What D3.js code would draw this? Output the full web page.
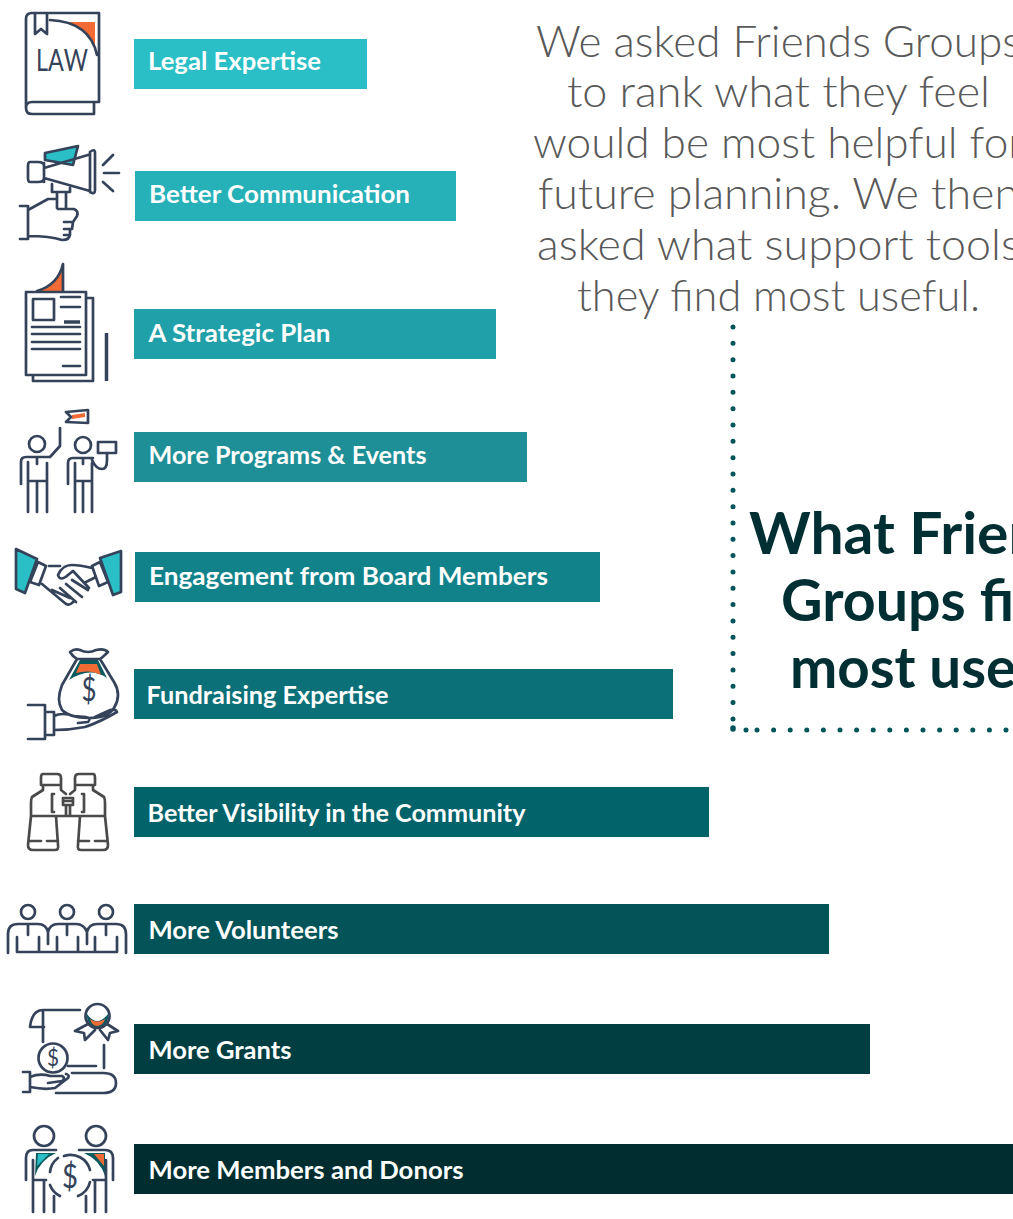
<!DOCTYPE html>
<html>
<head>
<meta charset="utf-8">
<script src="https://cdn.jsdelivr.net/npm/d3@7"></script>
<style>
  html, body { margin: 0; padding: 0; background: #fff; overflow: hidden; }
  svg { display: block; }
  text { font-family: "Lato", "Open Sans", sans-serif; }
</style>
</head>
<body>
<div id="chart"></div>
<script>
// what friends groups find most useful, longest bar runs off the page
const categories = ["Legal Expertise", "Better Communication", "A Strategic Plan", "More Programs & Events",
    "Engagement from Board Members", "Fundraising Expertise", "Better Visibility in the Community",
    "More Volunteers", "More Grants", "More Members and Donors"]
const values = [233, 322, 362, 393, 466, 539, 575, 695, 736, 900]
const barColors = ["#2abfc6", "#26b0b8", "#20a0a8", "#1e8f96", "#12828a", "#0b7077", "#02636a", "#025458", "#003e42", "#002e30"]

const introLines = ["We asked Friends Groups", "to rank what they feel", "would be most helpful for",
    "future planning. We then", "asked what support tools", "they find most useful."]
const titleLines = ["What Friends", "Groups find", "most useful"]

// layout
const rowTops = [39, 171, 309, 432, 552, 669, 787, 904, 1024, 1144]
const rowNudge = [0, 1, 0, 0, 1, 0, 0, 0, 0, 0]
const labelStarts = [148, 149, 148.5, 148.5, 149, 146.5, 147.5, 148.5, 148.5, 148.5]
const labelWidths = [173, 261, 182, 278, 399, 242, 378, 190, 143, 315]
const labelDrops = [31, 32, 33, 32, 33, 35, 35, 35, 35, 35]
const introWidths = [485, 423, 491, 481, 483, 403]
const titleStarts = [749, 781, 790]
const titleWidths = [352, 298, 292]

const width = 1013, height = 1219, barHeight = 50
const ink = "#35435a", orange = "#f26b35", teal = "#2abfc6", deep = "#0b5a5f"

const svg = d3.select("#chart").append("svg")
    .attr("width", width)
    .attr("height", height)

const x = d3.scaleLinear().domain([0, 1000]).range([0, 1000])
const y = d3.scaleOrdinal().domain(categories).range(rowTops)

const rows = svg.selectAll("g.row")
    .data(categories)
    .join("g")
    .attr("class", "row")

rows.append("rect")
    .attr("x", (d, i) => 134 + rowNudge[i])
    .attr("y", d => y(d))
    .attr("width", (d, i) => x(values[i]) - rowNudge[i])
    .attr("height", barHeight)
    .attr("fill", (d, i) => barColors[i])

rows.append("text")
    .attr("x", (d, i) => labelStarts[i])
    .attr("y", (d, i) => y(d) + labelDrops[i])
    .attr("textLength", (d, i) => labelWidths[i])
    .attr("lengthAdjust", "spacingAndGlyphs")
    .attr("font-size", 25)
    .attr("font-weight", 700)
    .attr("fill", "#fff")
    .text(d => d)

// intro paragraph
svg.selectAll("text.intro")
    .data(introLines)
    .join("text")
    .attr("class", "intro")
    .attr("x", 778.5)
    .attr("y", (d, i) => 56.5 + i * 50.8)
    .attr("text-anchor", "middle")
    .attr("textLength", (d, i) => introWidths[i])
    .attr("lengthAdjust", "spacingAndGlyphs")
    .attr("font-size", 43)
    .attr("font-weight", 300)
    .attr("fill", "#595959")
    .text(d => d)

// bold heading, clipped by the right edge
svg.selectAll("text.title")
    .data(titleLines)
    .join("text")
    .attr("class", "title")
    .attr("x", (d, i) => titleStarts[i])
    .attr("y", (d, i) => 554 + i * 67)
    .attr("textLength", (d, i) => titleWidths[i])
    .attr("lengthAdjust", "spacingAndGlyphs")
    .attr("font-size", 57)
    .attr("font-weight", 700)
    .attr("fill", "#002f33")
    .text(d => d)

// dotted corner
const dots = svg.append("g")
    .attr("fill", "none")
    .attr("stroke", "#00555a")
    .attr("stroke-width", 5)
    .attr("stroke-linecap", "round")
dots.append("path").attr("d", "M733,327V727").attr("stroke-dasharray", "0 16.33")
dots.append("path").attr("d", "M733,728V729").attr("stroke-width", 5.5)
dots.append("path").attr("d", "M746,730H1013").attr("stroke-dasharray", "0 11 0 16.6 0 16.6 0 16.6 0 16.6 0 16.6 0 16.6 0 16.6 0 16.6 0 16.6 0 16.6 0 16.6 0 16.6 0 16.6 0 16.6 0 16.6 0 16.6")

// icons, plain line drawings next to each bar
const iconFills = [
    { fill: orange, d: "M66,22H95V48Q88,28 66,22Z" },
    { fill: teal, d: "M45,153L78,146L73,165L45,160Z" },
    { fill: orange, d: "M37,291Q58,285 63,264V291Z" },
    { fill: orange, d: "M72,415L85,413V417L72,419Z" },
    { fill: teal, d: "M16,549L37,559L25,593L16,589Z" },
    { fill: teal, d: "M121,551L100,558L113,595L121,592Z" },
    { fill: deep, d: "M80,660H98L107,678Q90,666 69,680Z" },
    { fill: orange, d: "M80,664H97L101,675Q90,669 76,673Z" },
    { fill: deep, d: "M87,1014Q97,1028 108,1014Q109,1027 97,1028Q86,1027 87,1014Z" },
    { fill: orange, d: "M90,1019Q97,1024 105,1019Q103,1026 97,1026Q92,1026 90,1019Z" },
    { fill: deep, d: "M36,1153H56Q40,1160 35,1176Z" },
    { fill: teal, d: "M38,1154H49L37,1166Z" },
    { fill: deep, d: "M84,1153H105V1176Q100,1160 84,1153Z" },
    { fill: orange, d: "M94,1154H104V1166Z" }
]
svg.append("g").selectAll("path")
    .data(iconFills)
    .join("path")
    .attr("d", d => d.d)
    .attr("fill", d => d.fill)

const iconLines = [
    // law book
    "M99,13H32Q26,13 26,19V108Q26,114 32,114H94V102H32Q26,102 26,108M99,13V102H94M35,13V34L41,29L47,34V13M50,20Q90,22 97,55",
    // megaphone
    "M44,168L88,155M44,178L90,191M44,163V182M30,162H38Q44,162 44,166V178Q44,182 38,182H30Q28,182 28,178V166Q28,162 30,162Z M90,152Q95,148 95,153V190Q95,195 90,192ZM52,184V192H70V188M57,192V208M66,192V208M45,153L78,146L73,165L45,160ZM103,165L113,155M104,173H119M103,182L113,191",
    "M20,206H28V239H20M28,210L48,199H56M28,236Q50,236 62,240Q70,240 70,234M58,209H74Q79,211 77,216L73,222H64M73,222L72,229H64M70,229V235H64",
    // strategic plan
    "M26,292H86V375H26ZM86,298H93V381H33V375M33,299H54V320H33ZM61,297H80M61,307H80M32,327H80M32,334H80M32,342H80M32,349H80M63,366H80M37,291Q58,285 63,264V291",
    // programs and events
    "M60,428V446L50,457H26Q21,457 21,462V484M28,462V512M47,463V512M37,482V512M28,481H47M37,457V464M68,484V463Q68,458 73,458H93M75,463V512M92,463V512M83,482V512M75,481H92M83,458V464M92,460Q96,469 102,469Q107,469 107,460V453M98,442H116V453H98ZM66,412L88,410V423L66,422L71,417Z",
    // handshake
    "M16,549L37,559L25,593L16,589ZM121,551L100,558L113,595L121,592ZM38,562L46,566L39,585L30,582ZM92,566L100,562L108,582L99,586ZM49,566H60M92,568Q80,565 72,565Q62,565 58,575Q60,582 68,575L73,571L89,588M42,584L66,604Q70,606 74,601M52,590L70,598M60,588L76,602M66,584L82,597M72,580L88,590M86,582L94,578",
    // fundraising
    "M70,652Q75,648 80,650Q88,654 96,650Q104,648 108,652Q103,657 100,659H77Q73,657 70,652ZM77,659L62,685Q56,700 62,710Q70,718 88,718Q108,718 114,708Q122,695 114,682L100,659M28,705H45V739H28M45,712H54V735H45M54,716Q62,712 74,716L86,717Q92,718 88,722L78,723M54,730Q70,730 85,727Q100,722 117,712Q115,708 108,711L95,717",
    // volunteers
    "M8,953V934Q8,924 18,924H38Q46,924 48,932V944M48,932Q50,924 58,924H76Q84,924 87,932V944M87,932Q89,924 97,924H116Q126,924 126,934V953M28,924V935M67,924V935M106,924V935M17,937V952H117V937M39,937V952M57,937V952M78,937V952M95,937V952",
    // grants
    "M80,1010H43Q32,1010 30,1027H44M43,1012V1042M88,1024L75,1031L84,1033L85,1040L95,1030M107,1024L118,1031L110,1033L108,1040L100,1030M104,1045V1068M68,1066H96M23,1072H30V1092H23M30,1077Q40,1073 50,1076H62Q66,1078 62,1081L48,1083M30,1087Q45,1090 55,1088L68,1078Q70,1075 66,1074M72,1073H103Q116,1073 116,1083Q116,1093 103,1093H56",
    // members and donors
    "M26,1180V1158Q26,1150 33,1150H56M79,1150H105Q113,1150 113,1158V1180M33,1160V1212M44,1180V1212M54,1196V1212M33,1180H46M86,1196V1212M95,1180V1212M106,1160V1212M93,1180H106M58,1158A20,20 0 0,0 50,1172M50,1185A20,20 0 0,0 60,1196M78,1196A20,20 0 0,0 90,1182M90,1170A20,20 0 0,0 64,1156"
]
svg.append("g")
    .attr("fill", "none")
    .attr("stroke", ink)
    .attr("stroke-width", 2.7)
    .attr("stroke-linecap", "round")
    .attr("stroke-linejoin", "round")
    .selectAll("path")
    .data(iconLines)
    .join("path")
    .attr("d", d => d)

// pen and the heavy line on the plan sheet
svg.append("path")
    .attr("fill", "none")
    .attr("stroke", ink)
    .attr("stroke-width", 3.5)
    .attr("d", "M106.5,333V381M64,322H80")

// binoculars are drawn in a plainer grey
svg.append("path")
    .attr("fill", "none")
    .attr("stroke", "#4a4a4a")
    .attr("stroke-width", 2.7)
    .attr("stroke-linecap", "round")
    .attr("stroke-linejoin", "round")
    .attr("d", "M43,774H57Q61,774 61,778V785H41V778Q41,774 43,774ZM43,785V790L32,797Q31,799 31,803V816L28,845Q28,850 33,850H55Q59,850 58,845L56,816M61,785V790L66,794M66,806V816M31,816H105M29,841H41M47,841H58M93,774H79Q75,774 75,778V785H95V778Q95,774 93,774ZM93,785V790L104,797Q105,799 105,803V816L108,845Q108,850 103,850H81Q77,850 78,845L80,816M75,785V790L70,794M70,806V816M107,841H95M89,841H78M54,794H52V812H54M82,794H84V812H82M63,801H73M63,798H73V805H63Z")

const circles = [[44, 1136, 10], [96, 1136, 10], [28, 912, 7], [67, 912, 7], [106, 912, 7],
    [97.5, 1016, 12], [53, 1058, 14.5], [37, 444, 8], [83, 445, 8]]
svg.append("g").selectAll("circle")
    .data(circles)
    .join("circle")
    .attr("cx", d => d[0])
    .attr("cy", d => d[1])
    .attr("r", d => d[2])
    .attr("fill", "none")
    .attr("stroke", ink)
    .attr("stroke-width", 2.7)

const iconText = [["LAW", 36, 71, 30, 52], ["$", 89, 701, 32, 15], ["$", 53, 1066, 24, 12], ["$", 70, 1188, 33, 16]]
svg.append("g").selectAll("text")
    .data(iconText)
    .join("text")
    .attr("x", d => d[1])
    .attr("y", d => d[2])
    .attr("font-size", d => d[3])
    .attr("textLength", d => d[4])
    .attr("lengthAdjust", "spacingAndGlyphs")
    .style("font-kerning", "none")
    .attr("text-anchor", d => d[0] == "$" ? "middle" : "start")
    .attr("fill", ink)
    .text(d => d[0])
</script>
</body>
</html>
